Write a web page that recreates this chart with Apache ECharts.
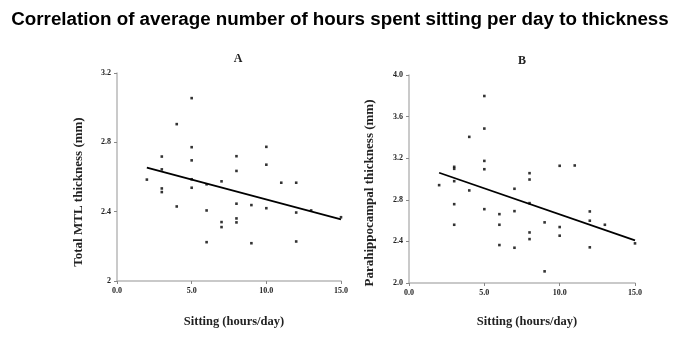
<!DOCTYPE html>
<html>
<head>
<meta charset="utf-8">
<style>html,body{margin:0;padding:0;background:#fff}#c{width:680px;height:339px}</style>
<script src="https://cdn.jsdelivr.net/npm/echarts@6/dist/echarts.min.js"></script>
</head>
<body>
<div id="c"></div>
<script>
// Panel A: Total MTL thickness
const hoursA = [2, 3,3,3,3, 4,4, 5,5,5,5,5, 6,6,6, 7,7,7, 8,8,8,8,8, 9,9, 10,10,10, 11, 12,12,12, 13, 15];
const mtlA   = [2.585, 2.718,2.644,2.534,2.513, 2.905,2.430, 3.055,2.772,2.696,2.587,2.538, 2.558,2.407,2.224, 2.575,2.340,2.311, 2.720,2.635,2.446,2.361,2.338, 2.438,2.218, 2.774,2.671,2.420, 2.567, 2.567,2.395,2.228, 2.407, 2.368];
const trendAx = [2, 15];
const trendAy = [2.654, 2.355];
// Panel B: Parahippocampal thickness
const hoursB = [2, 3,3,3,3,3, 4,4, 5,5,5,5,5, 6,6,6, 7,7,7, 8,8,8,8,8, 9,9, 10,10,10, 11, 12,12,12, 13, 15];
const paraB  = [2.941, 3.117,3.098,2.979,2.758,2.560, 3.405,2.890, 3.798,3.485,3.174,3.094,2.710, 2.662,2.560,2.365, 2.906,2.691,2.339, 3.056,2.995,2.768,2.486,2.422, 2.583,2.112, 3.127,2.538,2.455, 3.130, 2.688,2.599,2.343, 2.560, 2.381];
const trendBx = [2, 15];
const trendBy = [3.06, 2.41];
const xTicks = [0, 5, 10, 15];

const serif = '"Liberation Serif","Times New Roman",serif';
const pairs = (xs, ys) => xs.map((x, i) => [x, ys[i]]);

function xAxis(gi) {
  return {
    gridIndex: gi, type: 'value', min: 0, max: 15, interval: 5,
    axisLine: {lineStyle: {color: '#b8b8b8', width: 1.5}},
    axisTick: {show: true, length: 3, lineStyle: {color: '#888'}},
    splitLine: {show: false},
    axisLabel: {fontFamily: serif, fontWeight: 'bold', fontSize: 8, color: '#222', margin: 6,
      formatter: v => v.toFixed(1)}
  };
}
function yAxis(gi, max, fmt) {
  return {
    gridIndex: gi, type: 'value', min: 2, max: max, interval: 0.4,
    axisLine: {show: true, lineStyle: {color: '#b8b8b8', width: 1.5}},
    axisTick: {show: true, length: 3, lineStyle: {color: '#888'}},
    splitLine: {show: false},
    axisLabel: {fontFamily: serif, fontWeight: 'bold', fontSize: 8, color: '#222', margin: 6, formatter: fmt}
  };
}

const chart = echarts.init(document.getElementById('c'));
chart.setOption({
  animation: false,
  backgroundColor: '#fff',
  title: [
    {text: 'Correlation of average number of hours spent sitting per day to thickness', left: 'center', top: 5,
      textStyle: {fontFamily: '"Liberation Sans",Arial,sans-serif', fontWeight: 'bold', fontSize: 18.8, color: '#000'}},
    {text: 'A', left: 233, top: 48, textAlign: 'center',
      textStyle: {fontFamily: serif, fontWeight: 'bold', fontSize: 12, color: '#222'}},
    {text: 'B', left: 517, top: 50, textAlign: 'center',
      textStyle: {fontFamily: serif, fontWeight: 'bold', fontSize: 12, color: '#222'}}
  ],
  grid: [
    {left: 117, top: 73, width: 224, height: 208},
    {left: 409, top: 75, width: 226, height: 208}
  ],
  xAxis: [xAxis(0), xAxis(1)],
  yAxis: [
    yAxis(0, 3.2, v => (Math.abs(v - 2) < 1e-9 ? '2' : v.toFixed(1))),
    yAxis(1, 4.0, v => v.toFixed(1))
  ],
  graphic: [
    {type: 'text', x: 79, y: 192, rotation: Math.PI / 2,
      style: {text: 'Total MTL thickness (mm)', font: 'bold 13px ' + serif, fill: '#222', textAlign: 'center', textVerticalAlign: 'middle'}},
    {type: 'text', x: 370, y: 193, rotation: Math.PI / 2,
      style: {text: 'Parahippocampal thickness (mm)', font: 'bold 13px ' + serif, fill: '#222', textAlign: 'center', textVerticalAlign: 'middle'}},
    {type: 'text', x: 234, y: 322,
      style: {text: 'Sitting (hours/day)', font: 'bold 12.5px ' + serif, fill: '#222', textAlign: 'center', textVerticalAlign: 'middle'}},
    {type: 'text', x: 527, y: 322,
      style: {text: 'Sitting (hours/day)', font: 'bold 12.5px ' + serif, fill: '#222', textAlign: 'center', textVerticalAlign: 'middle'}}
  ],
  series: [
    {type: 'scatter', xAxisIndex: 0, yAxisIndex: 0, data: pairs(hoursA, mtlA), symbol: 'rect', symbolSize: 2.6, itemStyle: {color: '#000'}},
    {type: 'line', xAxisIndex: 0, yAxisIndex: 0, data: pairs(trendAx, trendAy), symbol: 'none', lineStyle: {color: '#000', width: 1.8}},
    {type: 'scatter', xAxisIndex: 1, yAxisIndex: 1, data: pairs(hoursB, paraB), symbol: 'rect', symbolSize: 2.6, itemStyle: {color: '#000'}},
    {type: 'line', xAxisIndex: 1, yAxisIndex: 1, data: pairs(trendBx, trendBy), symbol: 'none', lineStyle: {color: '#000', width: 1.8}}
  ]
});
</script>
</body>
</html>
